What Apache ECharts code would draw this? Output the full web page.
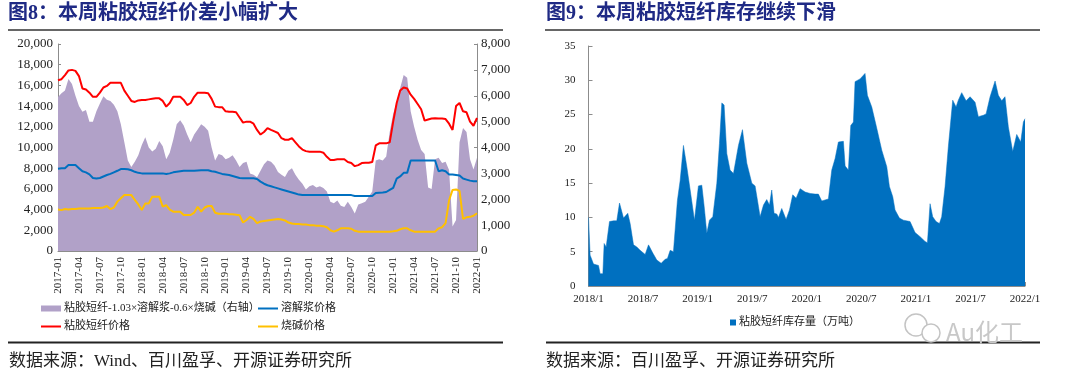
<!DOCTYPE html>
<html>
<head>
<meta charset="utf-8">
<script src="https://cdn.jsdelivr.net/npm/echarts@6/dist/echarts.min.js"></script>
<style>
html,body{margin:0;padding:0;background:#fff;}
#chart{width:1080px;height:379px;}
</style>
</head>
<body>
<div id="chart"></div>
<script>
// ---------- Figure 8 data (semi-monthly samples, 2017-01 .. 2022-01) ----------
const leftTickLabels = ['2017-01','2017-04','2017-07','2017-10','2018-01','2018-04','2018-07','2018-10','2019-01','2019-04','2019-07','2019-10','2020-01','2020-04','2020-07','2020-10','2021-01','2021-04','2021-07','2021-10','2022-01'];
const viscosePrice = [16500,16600,17000,17450,17500,17400,16900,15700,15600,15300,
 14900,14900,15300,15800,15950,16250,16250,16250,16250,15500,
 15000,14500,14400,14550,14600,14600,14650,14700,14750,14750,
 14500,13950,14300,14900,14900,14900,14600,14100,14300,14900,
 15300,15300,15300,15250,14700,13950,13900,13900,13500,13450,
 13450,13400,12900,12400,12500,12500,12300,11700,11250,11500,
 11880,11700,11550,11400,10900,10750,10750,10900,10500,10100,
 9800,9650,9600,9600,9600,9600,9500,9100,8800,8800,
 8860,8860,8860,8600,8500,8200,8300,8500,8530,8530,
 8600,10200,10400,10400,10400,10500,12500,14300,15500,15800,
 15700,15100,14700,14200,13700,12600,12700,12800,12820,12800,
 12800,12750,12300,11700,14000,14300,13500,13400,12500,12100,
 12850];
const pulpPrice = [7950,8000,8000,8300,8320,8300,8000,7700,7600,7400,
 7050,7000,7050,7200,7340,7450,7600,7750,7920,7920,
 7900,7800,7650,7550,7500,7500,7500,7500,7500,7500,
 7500,7450,7500,7600,7650,7700,7750,7750,7750,7760,
 7780,7800,7800,7800,7700,7650,7550,7450,7400,7350,
 7250,7150,7050,7020,7020,7020,7020,6950,6700,6500,
 6350,6250,6150,6050,5950,5850,5750,5650,5550,5450,
 5400,5400,5400,5400,5400,5400,5400,5400,5400,5400,
 5400,5400,5400,5400,5400,5320,5320,5320,5320,5320,
 5320,5600,5630,5650,5700,5900,6100,7000,7200,7550,
 7550,8750,8750,8750,8750,8750,8750,8750,8750,7700,
 7800,7700,7400,7400,7350,7300,7000,6900,6800,6750,
 6750];
const causticPrice = [4000,3950,4050,4000,4050,4050,4100,4100,4100,4100,
 4150,4150,4150,4200,4350,4050,4200,4770,5100,5400,
 5400,5400,4930,4500,3960,4600,4600,5250,5250,5250,
 4280,4440,4000,3800,3800,3800,3480,3480,3480,3700,
 4280,3800,4200,4350,4350,3700,3600,3600,3600,3550,
 3550,3500,3450,2750,3000,3300,3100,2700,2850,2900,
 2950,3000,3050,3100,3050,2950,2750,2650,2600,2600,
 2550,2550,2500,2500,2450,2450,2400,2300,2000,1870,
 2000,2190,2190,2190,2150,1950,1870,1870,1870,1870,
 1870,1870,1870,1870,1870,1870,1900,1950,2100,2190,
 2190,2000,1870,1870,1870,1870,1870,1870,1870,2190,
 2300,2700,4900,5900,5950,5800,3100,3250,3300,3400,
 3650];
const spreadValues = [5950,6100,6200,6650,6450,6000,5600,5380,5450,5000,
 5000,5400,5700,5980,5850,5800,5650,5400,4900,4200,
 3500,3250,3450,3700,4100,4400,4000,3850,3950,4250,
 4050,3550,3800,4300,4900,5050,4850,4500,4200,4500,
 4700,4900,4800,4650,4000,3500,3750,3700,3550,3600,
 3700,3500,3250,3400,3450,3000,2950,2850,3100,3350,
 3500,3450,3300,3050,2950,2860,3100,3200,2950,2750,
 2600,2380,2500,2550,2450,2500,2430,2300,1900,1850,
 1950,1750,1700,1900,1700,1450,1800,1850,1900,2100,
 2300,3500,3550,3500,3650,4600,5300,5750,6300,6800,
 6700,5400,4800,4300,3900,3750,2450,2400,3550,3600,
 3400,3450,3130,950,1200,4200,4750,4600,3550,3150,
 3600];

// ---------- Figure 9 data (months since 2018/1, inventory in 10k tons) ----------
const rightTickLabels = ['2018/1','2018/7','2019/1','2019/7','2020/1','2020/7','2021/1','2021/7','2022/1'];
const invMonths = [0,0.18,0.55,1.1,1.28,1.58,1.72,1.94,2.31,2.75,3.11,3.41,3.85,4.03,4.32,4.58,4.95,5.31,5.68,6.23,6.6,6.78,7.07,7.51,7.99,8.43,8.68,8.98,9.34,9.78,10.08,10.44,10.81,11.18,11.65,12.09,12.46,12.72,13.01,13.3,13.67,14.11,14.4,14.66,14.91,15.21,15.57,15.94,16.49,16.93,17.41,17.96,18.32,18.69,18.87,19.24,19.6,19.9,20.15,20.41,20.7,20.89,21.25,21.73,22.1,22.46,22.83,23.27,23.82,24.37,24.92,25.28,25.65,26.38,26.57,26.75,27.12,27.48,28.03,28.22,28.58,28.84,29.13,29.31,29.86,30.41,30.67,31.15,31.7,32.25,32.8,33.09,33.46,33.71,34.19,34.63,35.36,35.91,36.46,37.01,37.27,37.56,37.85,38.22,38.59,38.84,39.21,39.57,40.05,40.42,40.67,41.04,41.52,41.96,42.51,42.87,43.42,43.72,44.16,44.71,45.07,45.44,45.8,46.17,46.65,47.09,47.53,47.82,48];
const invValues = [10,4.5,3.2,3.0,1.8,1.8,6.2,5.7,9.4,9.5,9.5,12.1,9.9,9.9,10.6,9.1,6.0,5.7,5.2,4.6,6.0,6.2,4.8,3.8,3.3,3.9,4.0,5.2,5.0,12.5,15.4,20.5,17.4,14.0,9.6,14.6,14.7,11.6,7.7,9.6,10.1,15.0,20.8,26.7,26.4,19.3,16.9,16.4,20.5,22.8,17.9,15.0,14.6,11.6,10.1,11.8,12.6,11.8,14.0,10.6,10.5,10.0,11.3,9.7,11.1,13.3,12.8,14.2,13.7,13.5,13.4,13.4,12.4,12.7,12.7,16.9,18.6,21.0,21.1,17.5,16.9,23.4,23.9,29.8,30.2,31.0,27.8,26.1,23.0,19.8,17.4,14.5,13.0,11.1,9.9,9.6,9.4,7.8,7.2,6.5,6.3,12.0,10.1,9.4,9.1,10.1,14.5,20.3,27.1,26.1,27.1,28.2,27.0,27.6,26.8,24.7,24.9,25.1,27.6,29.9,27.8,27.0,27.6,23.2,19.6,22.1,21.0,23.9,24.4];

const names = {
  spread: '粘胶短纤-1.03×溶解浆-0.6×烧碱（右轴）',
  pulp: '溶解浆价格',
  viscose: '粘胶短纤价格',
  caustic: '烧碱价格',
  inv: '粘胶短纤库存量（万吨）'
};

const FONT = "'Liberation Serif','Noto Sans CJK SC',serif";
const C = {purple:'#b1a1c8', red:'#ff0000', blue:'#0070c0', yellow:'#ffc000', navy:'#1f2a85'};

const half = arr => arr.map((v, i) => [i / 2, v]);
const comma = v => String(v).replace(/\B(?=(\d{3})+(?!\d))/g, ',');

const axisLineStyle = {lineStyle:{color:'#8c8c8c', width:1}};
const labelBase = {fontFamily: FONT, color:'#222'};
const legText = {fontSize:11, color:'#222', fontFamily:FONT, padding:[0,0,0,-2]};
const lineLegend = (name, color, left, top) => ({
  left, top, padding:0, itemWidth:20, itemHeight:2, textStyle:legText,
  data:[{name, icon:'rect', itemStyle:{color}}]
});

const chart = echarts.init(document.getElementById('chart'), null, {renderer:'canvas'});
const option = {
  animation: false,
  textStyle: {fontFamily: FONT},
  title: [
    {text:'图8：本周粘胶短纤价差小幅扩大', left:8, top:4, padding:0,
     textStyle:{fontSize:20, fontWeight:'bold', color:C.navy, fontFamily:FONT}},
    {text:'图9：本周粘胶短纤库存继续下滑', left:546, top:4, padding:0,
     textStyle:{fontSize:20, fontWeight:'bold', color:C.navy, fontFamily:FONT}},
    {text:'数据来源：Wind、百川盈孚、开源证券研究所', left:9, top:353, padding:0,
     textStyle:{fontSize:17, fontWeight:'normal', color:'#222', fontFamily:FONT}},
    {text:'数据来源：百川盈孚、开源证券研究所', left:546, top:353, padding:0,
     textStyle:{fontSize:17, fontWeight:'normal', color:'#222', fontFamily:FONT}}
  ],
  graphic: [
    {type:'line', shape:{x1:8,y1:30,x2:503,y2:30}, style:{stroke:'#333', lineWidth:1.5}},
    {type:'line', shape:{x1:545,y1:30,x2:1040,y2:30}, style:{stroke:'#333', lineWidth:1.5}},
    {type:'line', shape:{x1:8,y1:342.5,x2:503,y2:342.5}, style:{stroke:'#222', lineWidth:2}},
    {type:'line', shape:{x1:546,y1:342.5,x2:1040,y2:342.5}, style:{stroke:'#222', lineWidth:2}},
    {type:'circle', shape:{cx:916, cy:325, r:11}, style:{fill:'#fff', stroke:'#c4c4c4', lineWidth:1.5}},
    {type:'circle', shape:{cx:931, cy:333, r:9}, style:{fill:'#fff', stroke:'#c4c4c4', lineWidth:1.5}},
    {type:'text', left:946, top:320, style:{text:'Au化工', font:"24px 'Noto Sans CJK SC'", fill:'#c8c8c8'}}
  ],
  legend: [
    {left:41, top:303, padding:0, itemWidth:20, itemHeight:6, textStyle:legText,
     data:[{name:names.spread, icon:'rect', itemStyle:{color:C.purple}}]},
    lineLegend(names.pulp, C.blue, 258, 303),
    lineLegend(names.viscose, C.red, 41, 321),
    lineLegend(names.caustic, C.yellow, 258, 321),
    {left:730, top:317, padding:0, itemWidth:6, itemHeight:6, textStyle:legText,
     data:[{name:names.inv, icon:'rect', itemStyle:{color:C.blue}}]}
  ],
  grid: [
    {left:58, top:44, width:419, height:207},
    {left:588.5, top:46, width:436.5, height:240}
  ],
  xAxis: [
    {gridIndex:0, type:'value', min:0, max:60, interval:3,
     axisLine:axisLineStyle, axisTick:{show:true, inside:true, length:3, lineStyle:{color:'#8c8c8c'}},
     splitLine:{show:false},
     axisLabel:Object.assign({rotate:90, fontSize:11, margin:6, formatter:v => leftTickLabels[Math.round(v/3)]}, labelBase)},
    {gridIndex:1, type:'value', min:0, max:48, interval:6,
     axisLine:axisLineStyle, axisTick:{show:true, inside:true, length:4, lineStyle:{color:'#8c8c8c'}},
     splitLine:{show:false},
     axisLabel:Object.assign({fontSize:11, margin:8, formatter:v => rightTickLabels[Math.round(v/6)]}, labelBase)}
  ],
  yAxis: [
    {gridIndex:0, type:'value', min:0, max:20000, interval:2000,
     axisLine:Object.assign({show:true}, axisLineStyle),
     axisTick:{show:true, inside:true, length:3, lineStyle:{color:'#8c8c8c'}},
     splitLine:{show:false},
     axisLabel:Object.assign({fontSize:13, margin:5, formatter:comma}, labelBase)},
    {gridIndex:0, type:'value', position:'right', min:0, max:8000, interval:1000,
     axisLine:Object.assign({show:true}, axisLineStyle),
     axisTick:{show:true, inside:true, length:3, lineStyle:{color:'#8c8c8c'}},
     splitLine:{show:false},
     axisLabel:Object.assign({fontSize:13, margin:4, formatter:comma}, labelBase)},
    {gridIndex:1, type:'value', min:0, max:35, interval:5,
     axisLine:Object.assign({show:true}, axisLineStyle),
     axisTick:{show:true, inside:true, length:4, lineStyle:{color:'#8c8c8c'}},
     splitLine:{show:false},
     axisLabel:Object.assign({fontSize:11, margin:13}, labelBase)}
  ],
  series: [
    {name:names.spread, type:'line', xAxisIndex:0, yAxisIndex:1, data:half(spreadValues),
     symbol:'none', lineStyle:{width:0, color:C.purple}, itemStyle:{color:C.purple},
     areaStyle:{color:C.purple, opacity:1}, z:1},
    {name:names.pulp, type:'line', xAxisIndex:0, yAxisIndex:0, data:half(pulpPrice),
     symbol:'none', lineStyle:{width:2, color:C.blue}, itemStyle:{color:C.blue}, z:3},
    {name:names.viscose, type:'line', xAxisIndex:0, yAxisIndex:0, data:half(viscosePrice),
     symbol:'none', lineStyle:{width:2, color:C.red}, itemStyle:{color:C.red}, z:3},
    {name:names.caustic, type:'line', xAxisIndex:0, yAxisIndex:0, data:half(causticPrice),
     symbol:'none', lineStyle:{width:2, color:C.yellow}, itemStyle:{color:C.yellow}, z:3},
    {name:names.inv, type:'line', xAxisIndex:1, yAxisIndex:2,
     data:invMonths.map((m, i) => [m, invValues[i]]),
     symbol:'none', lineStyle:{width:0.5, color:C.blue}, itemStyle:{color:C.blue},
     areaStyle:{color:C.blue, opacity:1}, z:2}
  ]
};
chart.setOption(option);
</script>
</body>
</html>
